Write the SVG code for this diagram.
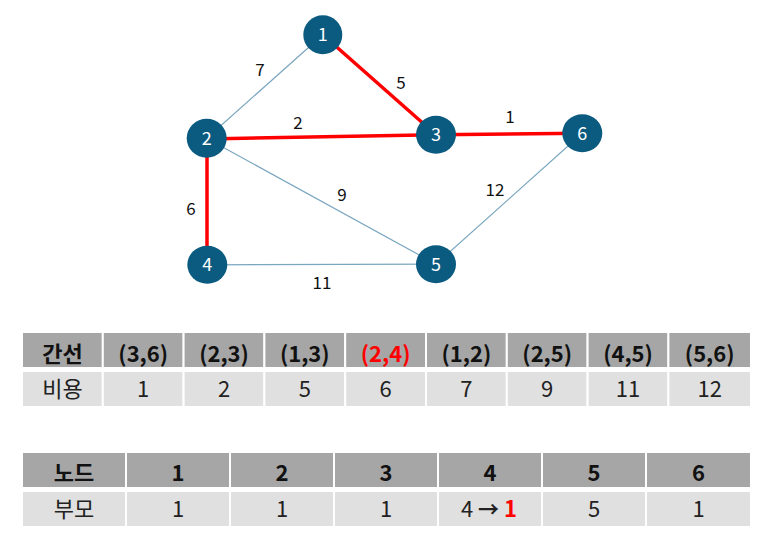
<svg xmlns="http://www.w3.org/2000/svg" width="775" height="549" viewBox="0 0 775 549">
<style>
text{font-family:"Noto Sans CJK KR","Noto Sans",sans-serif;text-anchor:middle}
.thin{stroke:#7aa6bf;stroke-width:1.2;fill:none}
.red{stroke:#ff0000;stroke-width:3.5;fill:none}
.node ellipse{fill:#0b5a80}
.node text{fill:#fff;font-size:18px}
.lbl{font-size:17px;fill:#111}
.h{fill:#a6a6a6;stroke:#fff;stroke-width:2}
.c{fill:#e0e0e0;stroke:#fff;stroke-width:2}
.ht{font-size:22px;font-weight:bold;fill:#111}
.ct{font-size:22px;fill:#222}
.arr{font-family:"Noto Sans CJK KR",sans-serif;font-weight:bold;font-size:21px}
</style>
<rect width="775" height="549" fill="#fff"/>
<g id="edges">
<line class="thin" x1="322.8" y1="34.7" x2="206.7" y2="138.3"/>
<line class="red" x1="322.8" y1="34.7" x2="436" y2="134.7"/>
<line class="red" x1="206.7" y1="139" x2="436" y2="134.7"/>
<line class="red" x1="436" y1="134.7" x2="582.3" y2="133.3"/>
<line class="thin" x1="206.7" y1="138.3" x2="436" y2="264.2"/>
<line class="red" x1="207" y1="138.3" x2="207" y2="264.8"/>
<line class="thin" x1="207.3" y1="264.8" x2="436" y2="264.2"/>
<line class="thin" x1="582.3" y1="133.3" x2="436" y2="264.2"/>
<text class="lbl" x="260" y="75.5">7</text>
<text class="lbl" x="401" y="88.5">5</text>
<text class="lbl" x="298" y="128.5">2</text>
<text class="lbl" x="510" y="122.5">1</text>
<text class="lbl" x="342" y="200.5">9</text>
<text class="lbl" x="495" y="195.5">12</text>
<text class="lbl" x="191" y="214.5">6</text>
<text class="lbl" x="322" y="288.5">11</text>
</g>
<g id="node1" class="node"><ellipse cx="322.8" cy="34.7" rx="19.5" ry="19.5"/><text x="322.8" y="41">1</text></g>
<g id="node2" class="node"><ellipse cx="206.7" cy="138.3" rx="20" ry="19.5"/><text x="206.7" y="144.8">2</text></g>
<g id="node3" class="node"><ellipse cx="436" cy="134.7" rx="20" ry="19"/><text x="436" y="141.2">3</text></g>
<g id="node6" class="node"><ellipse cx="582.3" cy="133.3" rx="20" ry="19"/><text x="582.3" y="139.8">6</text></g>
<g id="node4" class="node"><ellipse cx="207.3" cy="264.8" rx="20" ry="19"/><text x="207.3" y="271.3">4</text></g>
<g id="node5" class="node"><ellipse cx="436" cy="264.2" rx="20" ry="19"/><text x="436" y="270.7">5</text></g>
<g id="table1">
<rect class="h" x="22" y="332" width="80.8" height="36"/>
<rect class="h" x="102.8" y="332" width="80.8" height="36"/>
<rect class="h" x="183.6" y="332" width="80.8" height="36"/>
<rect class="h" x="264.4" y="332" width="80.8" height="36"/>
<rect class="h" x="345.2" y="332" width="80.8" height="36"/>
<rect class="h" x="426" y="332" width="80.8" height="36"/>
<rect class="h" x="506.8" y="332" width="80.8" height="36"/>
<rect class="h" x="587.6" y="332" width="80.8" height="36"/>
<rect class="h" x="668.4" y="332" width="82.6" height="36"/>
<rect class="c" x="22" y="371" width="80.8" height="36"/>
<rect class="c" x="102.8" y="371" width="80.8" height="36"/>
<rect class="c" x="183.6" y="371" width="80.8" height="36"/>
<rect class="c" x="264.4" y="371" width="80.8" height="36"/>
<rect class="c" x="345.2" y="371" width="80.8" height="36"/>
<rect class="c" x="426" y="371" width="80.8" height="36"/>
<rect class="c" x="506.8" y="371" width="80.8" height="36"/>
<rect class="c" x="587.6" y="371" width="80.8" height="36"/>
<rect class="c" x="668.4" y="371" width="82.6" height="36"/>
<text class="ht" x="62.4" y="361.5">간선</text>
<text class="ht" x="143.2" y="361.5">(3,6)</text>
<text class="ht" x="224" y="361.5">(2,3)</text>
<text class="ht" x="304.8" y="361.5">(1,3)</text>
<text class="ht" x="385.6" y="361.5" style="fill:#ff0000">(2,4)</text>
<text class="ht" x="466.4" y="361.5">(1,2)</text>
<text class="ht" x="547.2" y="361.5">(2,5)</text>
<text class="ht" x="628" y="361.5">(4,5)</text>
<text class="ht" x="709.7" y="361.5">(5,6)</text>
<text class="ct" x="62.4" y="396.5">비용</text>
<text class="ct" x="143.2" y="396.5">1</text>
<text class="ct" x="224" y="396.5">2</text>
<text class="ct" x="304.8" y="396.5">5</text>
<text class="ct" x="385.6" y="396.5">6</text>
<text class="ct" x="466.4" y="396.5">7</text>
<text class="ct" x="547.2" y="396.5">9</text>
<text class="ct" x="628" y="396.5">11</text>
<text class="ct" x="709.7" y="396.5">12</text>
</g>
<g id="table2">
<rect class="h" x="22" y="452" width="104" height="36"/>
<rect class="h" x="126" y="452" width="104" height="36"/>
<rect class="h" x="230" y="452" width="104" height="36"/>
<rect class="h" x="334" y="452" width="104" height="36"/>
<rect class="h" x="438" y="452" width="104" height="36"/>
<rect class="h" x="542" y="452" width="104" height="36"/>
<rect class="h" x="646" y="452" width="105" height="36"/>
<rect class="c" x="22" y="491" width="104" height="36"/>
<rect class="c" x="126" y="491" width="104" height="36"/>
<rect class="c" x="230" y="491" width="104" height="36"/>
<rect class="c" x="334" y="491" width="104" height="36"/>
<rect class="c" x="438" y="491" width="104" height="36"/>
<rect class="c" x="542" y="491" width="104" height="36"/>
<rect class="c" x="646" y="491" width="105" height="36"/>
<text class="ht" x="74" y="480.5">노드</text>
<text class="ht" x="178" y="480.5">1</text>
<text class="ht" x="282" y="480.5">2</text>
<text class="ht" x="386" y="480.5">3</text>
<text class="ht" x="490" y="480.5">4</text>
<text class="ht" x="594" y="480.5">5</text>
<text class="ht" x="698.5" y="480.5">6</text>
<text class="ct" x="74" y="516.5">부모</text>
<text class="ct" x="178" y="516.5">1</text>
<text class="ct" x="282" y="516.5">1</text>
<text class="ct" x="386" y="516.5">1</text>
<text class="ct" x="489" y="516.5">4 <tspan class="arr">→</tspan> <tspan font-weight="bold" style="fill:#ff0000">1</tspan></text>
<text class="ct" x="594" y="516.5">5</text>
<text class="ct" x="698.5" y="516.5">1</text>
</g>
</svg>
